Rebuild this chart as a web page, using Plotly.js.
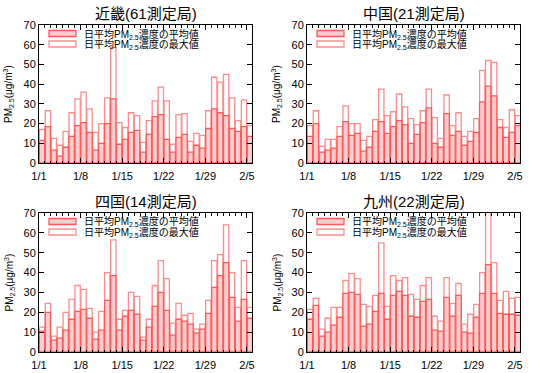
<!DOCTYPE html>
<html>
<head>
<meta charset="utf-8">
<script src="https://cdn.plot.ly/plotly-3.0.1.min.js"></script>
<style>html,body{margin:0;padding:0;background:#fff;}#chart{width:537px;height:373px;}</style>
</head>
<body>
<div id="chart"></div>
<script>
// ---- data ----
const dayLabels = ['1/1','1/2','1/3','1/4','1/5','1/6','1/7','1/8','1/9','1/10','1/11','1/12','1/13','1/14','1/15','1/16','1/17','1/18','1/19','1/20','1/21','1/22','1/23','1/24','1/25','1/26','1/27','1/28','1/29','1/30','1/31','2/1','2/2','2/3','2/4','2/5'];
const tickLabels = ['1/1','1/8','1/15','1/22','1/29','2/5'];
const regionTitles = ['近畿(61測定局)','中国(21測定局)','四国(14測定局)','九州(22測定局)'];
const seriesNames = ['日平均PM<sub>2.5</sub>濃度の平均値','日平均PM<sub>2.5</sub>濃度の最大値'];
const yTitle = 'PM<sub>2.5</sub>(μg/m<sup>3</sup>)';

const kinkiAvg = [11.5,18.5,6.5,3.5,8,13.5,19,20.5,15.5,6.5,10,20,32.5,9.5,12,15.5,16.5,5.5,14.5,23.5,24.5,12,5.5,13,14.5,5.5,9,7.5,17.5,27.5,25.5,24,17.5,16,18.5,13.5];
const kinkiMax = [17,26.5,12.5,9,16,25.5,32.5,36,27.5,15.5,20,33,58.5,20.5,18,25.5,24,10.5,21.5,31.5,38.5,31.5,9.5,24.5,25,11,15,14,26.5,43.5,41,45,33,21.5,32,19];

const chugokuAvg = [13.5,20,5.5,6.5,7.5,13.5,21,14,15,6,8,16,21,15,18.5,21.5,19.5,10,14.5,20.5,28,10,8,25,14,16,9,11,15.5,31,39,34,18,13,15.5,19];
const chugokuMax = [19,26.5,8.5,12,12,18.5,29,20,20,11.5,13.5,22,37.5,24,26,35,28.5,22.5,19.5,26.5,37.5,23,12.5,34.5,19,25.5,13.5,16,22.5,47,52,51,22,18,27,24];

const shikokuAvg = [10.5,20,6,7,11,16.5,20.5,21.5,17,6.5,11,26,38.5,11,18,21,19,6,12.5,23,30,21,8.5,16.5,15.5,14,9.5,11.5,19.5,32.5,38.5,45,27.5,15.5,26.5,17];
const shikokuMax = [12.5,24.5,8,12.5,20,26.5,33.5,31.5,22,10,20.5,40,56.5,16.5,21,30,28,7.5,16.5,33.5,46,37,14.5,24.5,18.5,19.5,11.5,14,26,46,49,64,40,22.5,46,22.5];

const kyushuAvg = [16.5,23.5,8,10,13.5,17.5,29.5,30,29,13,14,20.5,29.5,16.5,28.5,30.5,28.5,18,17.5,25.5,26.5,11,10.5,27.5,18,28.5,10,9.5,17.5,29.5,44,29.5,19.5,19,19,18.5];
const kyushuMax = [21.5,27,11.5,17,22.5,22.5,36,39.5,37,24,23,28.5,55,23,38.5,36,37.5,29,26.5,33.5,37.5,18,15.5,37.5,24.5,34.5,14,19,24,40,75,45,26,30.5,27,27.5];

const regionsAvg = [kinkiAvg, chugokuAvg, shikokuAvg, kyushuAvg];
const regionsMax = [kinkiMax, chugokuMax, shikokuMax, kyushuMax];

// ---- layout geometry (pixels) ----
const W = 537, H = 373;
const panels = [
  {l:39, r:252, t:25, b:163},
  {l:307, r:520, t:25, b:163},
  {l:39, r:252, t:213, b:352},
  {l:307, r:520, t:213, b:352}
];
const px = v => v / W;
const py = v => 1 - v / H;

const FONT = '"Liberation Sans", Arial, "Noto Sans CJK JP", sans-serif';
const avgFill = 'rgb(255,205,205)', avgLine = 'rgb(255,90,90)';
const maxFill = 'rgb(255,255,255)', maxLine = 'rgb(255,140,140)';

const xPos = dayLabels.map((d, i) => i + 0.5);
const tickPos = tickLabels.map(t => dayLabels.indexOf(t));
const minorPos = dayLabels.map((d, i) => i);

const traces = [];
const layout = {
  width: W, height: H, autosize: false,
  margin: {l:0, r:0, t:0, b:0},
  paper_bgcolor: '#fff', plot_bgcolor: '#fff',
  barmode: 'overlay', showlegend: false,
  font: {family: FONT, size: 11, color: '#000'},
  annotations: [], shapes: []
};

panels.forEach((p, k) => {
  const n = k === 0 ? '' : String(k + 1);
  const xa = 'x' + n, ya = 'y' + n;
  traces.push({
    type: 'bar', x: xPos, y: regionsMax[k], xaxis: xa, yaxis: ya,
    width: 0.9, name: seriesNames[1],
    marker: {color: maxFill, line: {color: maxLine, width: 1.3}},
    hoverinfo: 'y'
  });
  traces.push({
    type: 'bar', x: xPos, y: regionsAvg[k], xaxis: xa, yaxis: ya,
    width: 0.9, name: seriesNames[0],
    marker: {color: avgFill, line: {color: avgLine, width: 1.3}},
    hoverinfo: 'y'
  });
  layout['xaxis' + n] = {
    domain: [px(p.l), px(p.r)], anchor: ya,
    range: [0, 35.85], tickmode: 'array', tickvals: tickPos, ticktext: tickLabels,
    ticks: 'inside', ticklen: 5, tickwidth: 1, tickcolor: '#000',
    minor: {tickmode: 'array', tickvals: minorPos, ticks: 'inside', ticklen: 2.5, tickwidth: 1, tickcolor: '#000'},
    showline: true, linecolor: '#000', linewidth: 1, mirror: 'allticks',
    showgrid: false, zeroline: false, fixedrange: true,
    ticklabelstandoff: 3,
    tickfont: {size: 11, family: FONT}
  };
  layout['yaxis' + n] = {
    domain: [py(p.b), py(p.t)], anchor: xa,
    range: [0, 70], tickmode: 'linear', tick0: 0, dtick: 10,
    ticks: 'inside', ticklen: 5, tickwidth: 1, tickcolor: '#000',
    showline: true, linecolor: '#000', linewidth: 1, mirror: 'allticks',
    showgrid: false, zeroline: false, fixedrange: true,
    tickfont: {size: 11, family: FONT}
  };
  // panel title
  layout.annotations.push({
    xref: 'paper', yref: 'paper', x: px((p.l + p.r) / 2), y: py(p.t - 12),
    xanchor: 'center', yanchor: 'middle', showarrow: false,
    text: regionTitles[k], font: {size: 15, family: FONT}
  });
  // y-axis title
  layout.annotations.push({
    xref: 'paper', yref: 'paper', x: px(p.l - 30), y: py((p.t + p.b) / 2),
    xanchor: 'center', yanchor: 'middle', showarrow: false, textangle: -90,
    text: yTitle, font: {size: 10, family: FONT}
  });
  // legend (swatches + labels)
  const legendRows = [
    {fill: avgFill, line: avgLine, text: seriesNames[0], yc: p.t + 8.5},
    {fill: maxFill, line: maxLine, text: seriesNames[1], yc: p.t + 19}
  ];
  legendRows.forEach(r => {
    layout.shapes.push({
      type: 'rect', xref: 'paper', yref: 'paper',
      x0: px(p.l + 10), x1: px(p.l + 37), y0: py(r.yc - 3), y1: py(r.yc + 3),
      fillcolor: r.fill, line: {color: r.line, width: 1.3}
    });
    layout.annotations.push({
      xref: 'paper', yref: 'paper', x: px(p.l + 43), y: py(r.yc + 0.5),
      xanchor: 'left', yanchor: 'middle', showarrow: false,
      text: r.text, font: {size: 10, family: FONT}
    });
  });
});

Plotly.newPlot('chart', traces, layout, {displayModeBar: false, staticPlot: true});
</script>
</body>
</html>
